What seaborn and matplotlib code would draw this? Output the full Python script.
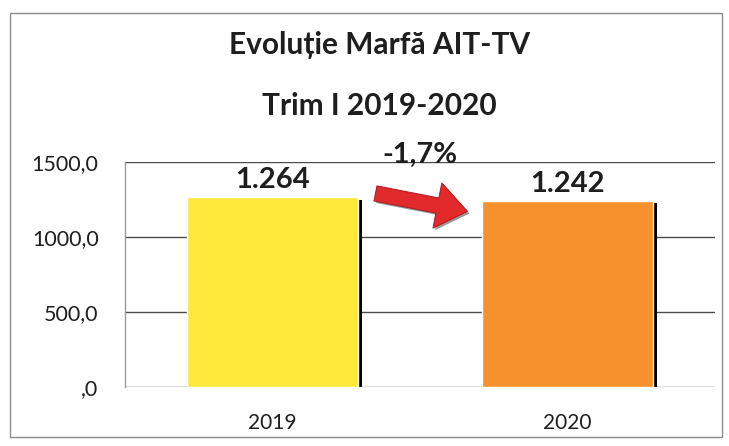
import matplotlib
matplotlib.use("Agg")
import matplotlib.pyplot as plt
import matplotlib.patheffects as pe
from matplotlib.patches import Rectangle
import seaborn as sns
import pandas as pd

# ---- data ----
years = ["2019", "2020"]
values = [1264, 1242]
bar_colors = ["#FFE83A", "#F7912E"]
title_lines = ["Evoluție Marfă AIT-TV", "Trim I 2019-2020"]
yticks = [0, 500, 1000, 1500]
ytick_labels = [",0", "500,0", "1000,0", "1500,0"]

sns.set_theme(style="white")
plt.rcParams["font.family"] = ["Lato", "DejaVu Sans"]

df = pd.DataFrame({"year": years, "value": values})

fig = plt.figure(figsize=(7.29, 4.46), dpi=100)
ax = fig.add_axes([125 / 729, 59 / 446, 590 / 729, 225 / 446])

sns.barplot(data=df, x="year", y="value", hue="year", palette=bar_colors,
            saturation=1, legend=False, width=0.58, ax=ax, zorder=3)

for p in ax.patches:
    p.set_path_effects([pe.SimplePatchShadow(offset=(3, -2), shadow_rgbFace="black", alpha=1.0),
                        pe.Normal()])

ax.set_ylim(0, 1500)
ax.set_xlim(-0.5, 1.5)
ax.set_yticks(yticks)
ax.set_yticklabels(ytick_labels)
ax.yaxis.grid(True, color="#4a4a4a", linewidth=1.0)
ax.set_axisbelow(True)
for s in ["top", "right", "bottom"]:
    ax.spines[s].set_visible(False)
ax.spines["left"].set_color("#9a9a9a")
ax.spines["left"].set_linewidth(1.0)
ax.tick_params(axis="y", length=0, pad=19, labelsize=15.5, labelcolor="#1e1e1e")
ax.tick_params(axis="x", length=0, pad=19, labelsize=15, labelcolor="#1e1e1e")
ax.set_xlabel("")
ax.set_ylabel("")

# data labels
for i, v in enumerate(values):
    ax.annotate(f"{v:,.0f}".replace(",", "."), xy=(i, v), xytext=(0, 3),
                textcoords="offset points", ha="center", va="bottom",
                fontsize=21, fontweight="bold", color="#1e1e1e")

# percent change
pct = (values[1] - values[0]) / values[0] * 100
ax.text(0.5, 1547, f"{pct:.1f}%".replace(".", ","), ha="center", va="center",
        fontsize=21, fontweight="bold", color="#1e1e1e", clip_on=False)

# red arrow
ax.annotate("", xy=(0.67, values[1] - 75), xytext=(0.34, values[0] + 30),
            arrowprops=dict(arrowstyle="simple,head_length=1.0,head_width=1.5,tail_width=0.5",
                            mutation_scale=22, facecolor="#E2292C", edgecolor="#B01E22",
                            linewidth=0.8,
                            path_effects=[pe.SimplePatchShadow(offset=(1.5, -1.5), shadow_rgbFace="#555555", alpha=0.6),
                                          pe.Normal()]),
            zorder=5)

# titles
fig.text(0.52, 1 - 45 / 446, title_lines[0], ha="center", va="center",
         fontsize=21.5, fontweight="bold", color="#1e1e1e")
fig.text(0.52, 1 - 106 / 446, title_lines[1], ha="center", va="center",
         fontsize=21.5, fontweight="bold", color="#1e1e1e")

# outer chart border
fig.patches.append(Rectangle((10 / 729, 1 - 437 / 446), 712 / 729, 424 / 446,
                             transform=fig.transFigure, fill=False,
                             edgecolor="#8c8c8c", linewidth=1.0))

fig.savefig("out.png", dpi=100)
